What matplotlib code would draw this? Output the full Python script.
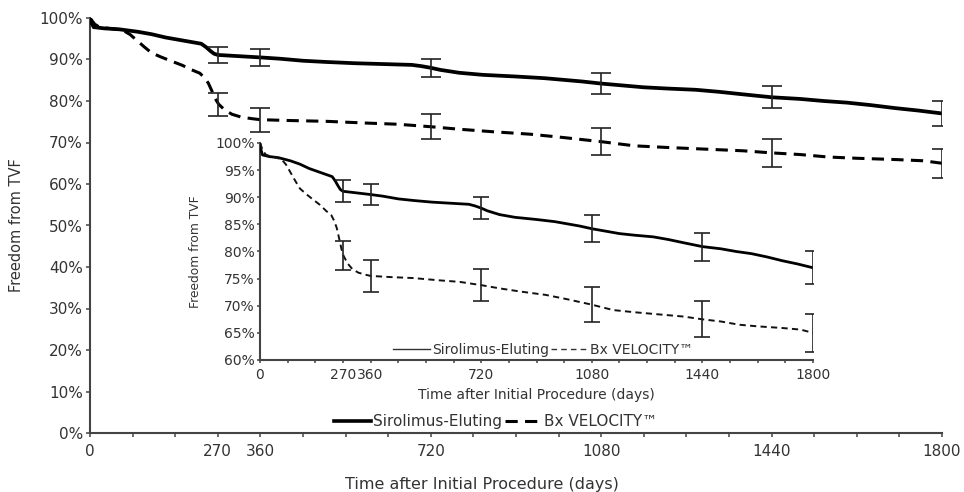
import matplotlib
matplotlib.use("Agg")
import matplotlib.pyplot as plt
from matplotlib.lines import Line2D
import numpy as np

plt.rcParams['font.family'] = ['DejaVu Sans']

# ---------------- data ----------------
siro_days = [0, 3, 8, 30, 60, 80, 100, 130, 160, 190, 215, 235, 245, 255, 262, 270,
             300, 330, 360, 400, 450, 500, 560, 620, 680, 700, 720, 740, 780, 830,
             900, 960, 1000, 1040, 1080, 1120, 1170, 1220, 1280, 1330, 1380, 1440,
             1500, 1550, 1600, 1650, 1700, 1750, 1800]
siro_vals = [100, 98.8, 97.8, 97.5, 97.3, 97.0, 96.7, 96.1, 95.3, 94.7, 94.2, 93.8,
             93.0, 92.0, 91.4, 91.1, 90.9, 90.7, 90.5, 90.2, 89.7, 89.4, 89.1, 88.9,
             88.7, 88.4, 88.0, 87.5, 86.8, 86.3, 85.9, 85.5, 85.1, 84.7, 84.2, 83.8,
             83.3, 83.0, 82.7, 82.2, 81.6, 80.9, 80.5, 80.0, 79.6, 79.0, 78.3, 77.7, 77.0]

bx_days = [0, 10, 20, 40, 70, 85, 100, 115, 130, 150, 170, 195, 215, 232, 242, 250,
           258, 265, 272, 285, 300, 320, 345, 360, 420, 500, 580, 650, 720, 780, 850,
           930, 1000, 1080, 1150, 1220, 1300, 1380, 1440, 1500, 1560, 1620, 1700,
           1760, 1800]
bx_vals = [100, 98.5, 97.8, 97.5, 97.0, 96.0, 94.5, 93.0, 91.6, 90.6, 89.7, 88.6,
           87.5, 86.7, 85.6, 84.3, 82.3, 80.5, 79.2, 77.8, 76.8, 76.1, 75.7, 75.5,
           75.3, 75.1, 74.7, 74.4, 73.8, 73.2, 72.6, 72.0, 71.2, 70.2, 69.2, 68.8,
           68.4, 68.0, 67.5, 67.1, 66.5, 66.2, 65.9, 65.6, 65.0]

err_days = [270, 360, 720, 1080, 1440, 1800]
siro_err_center = [91.1, 90.5, 88.0, 84.2, 80.9, 77.0]
siro_err = [2.0, 2.0, 2.1, 2.5, 2.6, 3.0]
bx_err_center = [79.2, 75.5, 73.8, 70.2, 67.5, 65.0]
bx_err = [2.7, 2.9, 3.0, 3.2, 3.3, 3.5]

x_tick_days = list(range(0, 1801, 90))
x_label_days = [0, 270, 360, 720, 1080, 1440, 1800]
main_y_ticks = list(range(0, 101, 10))
inset_y_ticks = list(range(60, 101, 5))

series_names = ["Sirolimus-Eluting", "Bx VELOCITY\u2122"]
x_title = "Time after Initial Procedure (days)"
y_title = "Freedom from TVF"

# ---------------- figure ----------------
W, H = 964, 492
fig = plt.figure(figsize=(W / 100, H / 100), dpi=100)
txt = '#333333'
spc = '#444444'

def px_axes(l, t, r, b):
    return [l / W, 1 - b / H, (r - l) / W, (b - t) / H]

ax = fig.add_axes(px_axes(90, 18, 942, 433))
ins = fig.add_axes(px_axes(260, 143, 813, 360))
ins.set_facecolor('none')

def style_axes(a, yticks, lw, tl, fs, padx, pady):
    a.set_xlim(0, 1800)
    a.set_xticks(x_tick_days)
    a.set_xticklabels([str(d) if d in x_label_days else "" for d in x_tick_days])
    a.set_yticks(yticks)
    a.set_yticklabels([f"{v}%" for v in yticks])
    for s in ['top', 'right']:
        a.spines[s].set_visible(False)
    for s in ['left', 'bottom']:
        a.spines[s].set_linewidth(lw)
        a.spines[s].set_color(spc)
    a.tick_params(axis='both', direction='out', length=tl, width=1.1, color=spc,
                  labelsize=fs, labelcolor=txt)
    a.tick_params(axis='x', pad=padx)
    a.tick_params(axis='y', pad=pady)

style_axes(ax, main_y_ticks, 1.5, 3, 11, 5, 2)
ax.set_ylim(0, 100)
style_axes(ins, inset_y_ticks, 1.5, 2.5, 10, 3, 1.5)
ins.set_ylim(60, 100)

# main curves
ax.plot(siro_days, siro_vals, color='black', lw=2.7, solid_joinstyle='miter', zorder=3)
ax.plot(bx_days, bx_vals, color='black', lw=2.2, dashes=(4, 2.4), zorder=3)
ax.errorbar(err_days, siro_err_center, yerr=siro_err, fmt='none', ecolor='#222222',
            elinewidth=1.2, capsize=7, capthick=1.2, zorder=4)
ax.errorbar(err_days, bx_err_center, yerr=bx_err, fmt='none', ecolor='#222222',
            elinewidth=1.2, capsize=7, capthick=1.2, zorder=4)

# inset curves
ins.plot(siro_days, siro_vals, color='black', lw=2.0, zorder=3)
ins.plot(bx_days, bx_vals, color='#111111', lw=1.4, dashes=(3.2, 2.2), zorder=3)
ins.errorbar(err_days, siro_err_center, yerr=siro_err, fmt='none', ecolor='#222222',
             elinewidth=1.2, capsize=6, capthick=1.2, zorder=4)
ins.errorbar(err_days, bx_err_center, yerr=bx_err, fmt='none', ecolor='#222222',
             elinewidth=1.2, capsize=6, capthick=1.2, zorder=4)

# labels
ax.set_xlabel(x_title, fontsize=11.5, color=txt)
ax.xaxis.set_label_coords(0.46, -0.125)
ax.xaxis.label.set_va('center')
ax.set_ylabel(y_title, fontsize=10.5, color=txt)
ax.yaxis.set_label_coords(-0.086, 0.5)
ax.yaxis.label.set_va('center')

ins.set_xlabel(x_title, fontsize=10, color=txt)
ins.xaxis.set_label_coords(0.5, -0.161)
ins.xaxis.label.set_va('center')
ins.set_ylabel(y_title, fontsize=8.8, color=txt)
ins.yaxis.set_label_coords(-0.1175, 0.5)
ins.yaxis.label.set_va('center')

# legends
h_main = [Line2D([], [], color='black', lw=2.6),
          Line2D([], [], color='black', lw=2.2, dashes=(4, 2.4))]
leg = ax.legend(h_main, series_names, loc='center', bbox_to_anchor=(0.4765, 0.027),
                ncol=2, frameon=False, fontsize=11, handlelength=2.4,
                handletextpad=0.15, columnspacing=0.2, borderpad=0, labelcolor=txt)

h_ins = [Line2D([], [], color='#333333', lw=1.0),
         Line2D([], [], color='#333333', lw=1.0, dashes=(4, 3))]
leg2 = ins.legend(h_ins, series_names, loc='center', bbox_to_anchor=(0.512, 0.046),
                  ncol=2, frameon=False, fontsize=10, handlelength=2.6,
                  handletextpad=0.15, columnspacing=0.2, borderpad=0, labelcolor=txt)

fig.savefig("out.png", dpi=100)
